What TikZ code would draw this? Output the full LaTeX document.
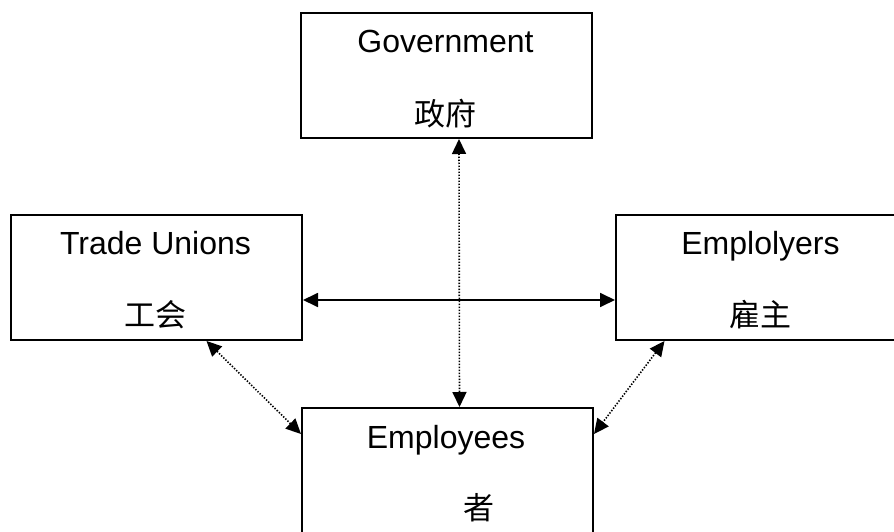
\documentclass[tikz,border=0pt]{standalone}
\usepackage{fontspec}
\setmainfont{Liberation Sans}
\newfontfamily\cjk{Noto Sans CJK SC}
\usetikzlibrary{arrows.meta}
\tikzset{
  box/.style={draw, line width=2pt, minimum width=291pt, minimum height=125pt, anchor=north west, inner sep=0pt},
  lbl/.style={font=\fontsize{32}{38}\selectfont, anchor=base, inner sep=0pt},
  cjklbl/.style={font=\fontsize{31}{36}\selectfont\cjk, anchor=base, inner sep=0pt},
  head/.tip={Triangle[length=15pt,width=14pt]},
  solidlink/.style={head-head, line width=1.8pt},
  dotlink/.style={head-head, line width=1.6pt, dash pattern=on 1.4pt off 1.6pt}
}
\begin{document}
\begin{tikzpicture}[x=1pt,y=-1pt]
\useasboundingbox (0,0) rectangle (894,532);
\clip (0,0) rectangle (894,532);
\node[box] (gov) at (300,12) {};
\node[box] (tu) at (10,214) {};
\node[box] (er) at (615,214) {};
\node[box] (ee) at (301,407) {};

\node[lbl] (govt) at (445.5,53) {Government};
\node[cjklbl] (govc) at (445.5,126) {政府};
\node[lbl] (tut) at (155.5,254) {Trade Unions};
\node[cjklbl] (tuc) at (155.5,326) {工会};
\node[lbl] (ert) at (760.5,254) {Emplolyers};
\node[cjklbl] (erc) at (760.5,326) {雇主};
\node[lbl] (eet) at (446,448) {Employees};
\node[cjklbl] (eec) at (479,519) {者};

\draw[dotlink] ([xshift=12.5pt]gov.south) -- ([xshift=12pt]ee.north);
\draw[solidlink] ([yshift=-22.5pt]tu.east) -- ([yshift=-22.5pt]er.west);
\draw[dotlink] ([xshift=50pt]tu.south) -- ([yshift=-27pt]ee.north west);
\draw[dotlink] ([xshift=-97pt]er.south) -- ([yshift=-27pt]ee.north east);
\end{tikzpicture}
\end{document}
